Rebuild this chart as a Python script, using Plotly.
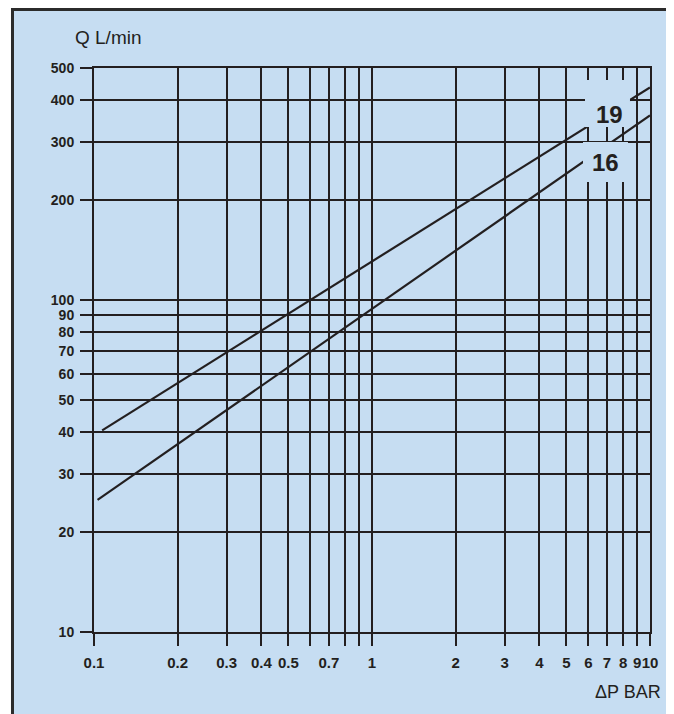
import plotly.graph_objects as go

# ---- data ----
dp_19 = [0.107, 10.0]
q_19 = [40.5, 437.0]
dp_16 = [0.103, 10.0]
q_16 = [25.0, 360.0]

x_tickvals = [0.1, 0.2, 0.3, 0.4, 0.5, 0.6, 0.7, 0.8, 0.9, 1, 2, 3, 4, 5, 6, 7, 8, 9, 10]
x_ticktext = ["0.1", "0.2", "0.3", "0.4", "0.5", "", "0.7", "", "", "1", "2", "3", "4", "5", "6", "7", "8", "9", "10"]
y_tickvals = [10, 20, 30, 40, 50, 60, 70, 80, 90, 100, 200, 300, 400, 500]
y_ticktext = ["10", "20", "30", "40", "50", "60", "70", "80", "90", "100", "200", "300", "400", "500"]
labels = ["19", "16"]

BLUE = "#c6ddf2"
INK = "#231f20"
FONT = "Liberation Sans, Arial, Helvetica, sans-serif"

fig = go.Figure()
for dp, q in [(dp_19, q_19), (dp_16, q_16)]:
    fig.add_trace(go.Scatter(x=dp, y=q, mode="lines",
                             line=dict(color=INK, width=2.2),
                             showlegend=False, hoverinfo="skip"))

axis_common = dict(
    type="log", showgrid=True, gridcolor=INK, gridwidth=2,
    showline=True, linecolor=INK, linewidth=2, mirror=True,
    ticks="outside", ticklen=12, tickwidth=2, tickcolor=INK,
    zeroline=False, tickmode="array", tickangle=0,
)
fig.update_xaxes(range=[-1, 1], tickvals=x_tickvals, ticktext=x_ticktext,
                 ticklabelstandoff=4,
                 tickfont=dict(family=FONT, size=15, color=INK, weight="bold"),
                 **axis_common)
fig.update_yaxes(range=[1, 2.69897], tickvals=y_tickvals, ticktext=y_ticktext,
                 ticklabelstandoff=3,
                 tickfont=dict(family=FONT, size=14, color=INK, weight="bold"),
                 **axis_common)

shapes = [
    # outer framed panel
    dict(type="rect", xref="paper", yref="paper", x0=-0.1466, x1=1.0342, y0=-0.2, y1=1.1037,
         fillcolor=BLUE, line=dict(color="#2b2b2b", width=3), layer="below"),
    # label boxes that mask grid/lines
    dict(type="rect", xref="paper", yref="paper", x0=0.8831, x1=0.9640, y0=0.8954, y1=0.9787,
         fillcolor=BLUE, line=dict(width=0), layer="above"),
    dict(type="rect", xref="paper", yref="paper", x0=0.8795, x1=0.9604, y0=0.7979, y1=0.8688,
         fillcolor=BLUE, line=dict(width=0), layer="above"),
]

annotations = [
    dict(text=labels[0], xref="paper", yref="paper", x=0.9263, y=0.9184, showarrow=False,
         xanchor="center", yanchor="middle",
         font=dict(family=FONT, size=24, color=INK, weight="bold")),
    dict(text=labels[1], xref="paper", yref="paper", x=0.9191, y=0.8316, showarrow=False,
         xanchor="center", yanchor="middle",
         font=dict(family=FONT, size=24, color=INK, weight="bold")),
    dict(text="Q L/min", xref="paper", yref="paper", x=-0.0378, y=1.0532, showarrow=False,
         xanchor="left", yanchor="middle",
         font=dict(family=FONT, size=19, color=INK)),
    dict(text="ΔP BAR", xref="paper", yref="paper", x=1.0234, y=-0.1064, showarrow=False,
         xanchor="right", yanchor="middle",
         font=dict(family=FONT, size=18, color=INK)),
]

# page body has an 8px margin, so the figure is sized to fit inside the window
fig.update_layout(
    width=666, height=706,
    margin=dict(l=86, r=24, t=60, b=82),
    paper_bgcolor="white", plot_bgcolor=BLUE,
    shapes=shapes, annotations=annotations,
    showlegend=False,
)

fig.write_html("out.html")
